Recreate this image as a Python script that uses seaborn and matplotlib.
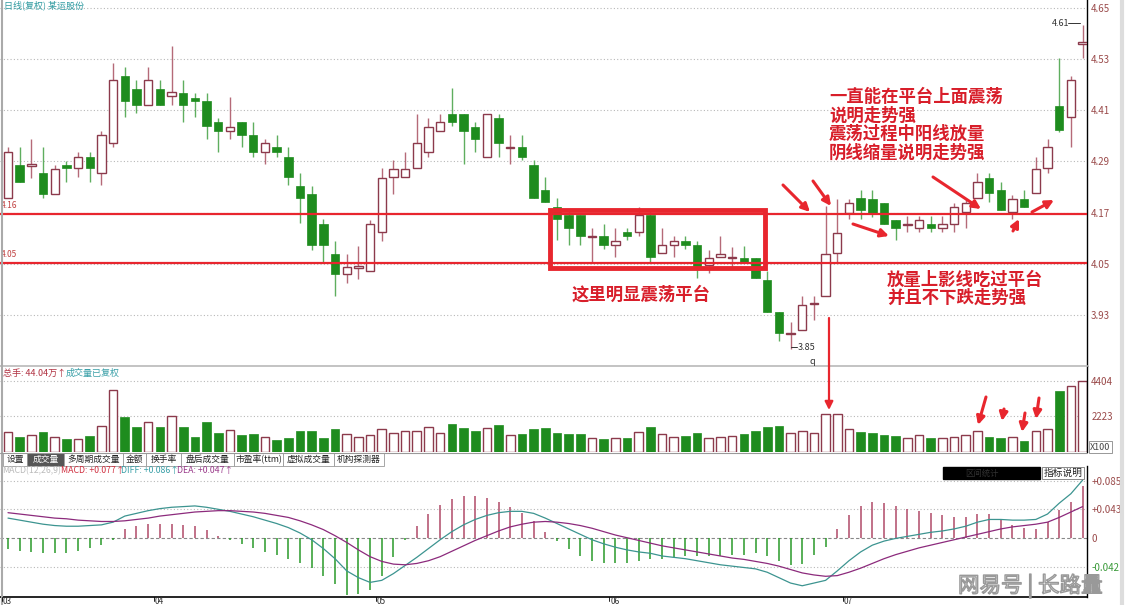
import numpy as np
import matplotlib
matplotlib.use("Agg")
import matplotlib.pyplot as plt
import matplotlib.patheffects as pe
from matplotlib.patches import Rectangle
import seaborn as sns

sns.set_theme(style="white")
plt.rcParams['font.family'] = ['Noto Sans CJK SC', 'DejaVu Sans']
plt.rcParams['axes.unicode_minus'] = False

# daily candles, 93 sessions (Mar - Jul)
opens = [4.204, 4.282, 4.280, 4.262, 4.214, 4.282, 4.274, 4.301, 4.264, 4.333,
         4.491, 4.461, 4.422, 4.461, 4.444, 4.451, 4.440, 4.432, 4.382, 4.362,
         4.382, 4.352, 4.312, 4.323, 4.301, 4.233, 4.213, 4.143, 4.073, 4.025,
         4.040, 4.034, 4.124, 4.253, 4.253, 4.274, 4.313, 4.362, 4.401, 4.401,
         4.372, 4.301, 4.391, 4.322, 4.323, 4.282, 4.223, 4.184, 4.165, 4.165,
         4.113, 4.114, 4.094, 4.124, 4.124, 4.165, 4.075, 4.094, 4.104, 4.094,
         4.046, 4.065, 4.063, 4.064, 4.064, 4.012, 3.936, 3.886, 3.895, 3.955,
         3.975, 4.075, 4.170, 4.204, 4.202, 4.192, 4.153, 4.142, 4.133, 4.143,
         4.133, 4.143, 4.171, 4.204, 4.251, 4.223, 4.172, 4.202, 4.215, 4.274,
         4.420, 4.394, 4.565]
highs = [4.325, 4.323, 4.343, 4.323, 4.282, 4.292, 4.312, 4.312, 4.362, 4.522,
         4.512, 4.481, 4.511, 4.481, 4.561, 4.481, 4.451, 4.451, 4.391, 4.442,
         4.382, 4.382, 4.342, 4.352, 4.323, 4.262, 4.233, 4.154, 4.104, 4.073,
         4.092, 4.153, 4.274, 4.293, 4.312, 4.401, 4.391, 4.401, 4.462, 4.401,
         4.382, 4.401, 4.401, 4.352, 4.352, 4.294, 4.253, 4.204, 4.175, 4.165,
         4.133, 4.143, 4.133, 4.133, 4.184, 4.175, 4.133, 4.114, 4.114, 4.104,
         4.083, 4.114, 4.090, 4.092, 4.064, 4.032, 3.936, 3.914, 3.975, 3.975,
         4.186, 4.201, 4.201, 4.223, 4.223, 4.192, 4.153, 4.162, 4.162, 4.162,
         4.162, 4.192, 4.201, 4.264, 4.264, 4.241, 4.211, 4.223, 4.301, 4.342,
         4.532, 4.491, 4.610]
lows = [4.204, 4.243, 4.252, 4.204, 4.214, 4.243, 4.254, 4.243, 4.235, 4.323,
        4.394, 4.403, 4.422, 4.422, 4.422, 4.383, 4.394, 4.342, 4.313, 4.342,
        4.323, 4.301, 4.283, 4.301, 4.235, 4.145, 4.082, 4.055, 3.975, 4.004,
        4.014, 4.034, 4.104, 4.214, 4.253, 4.274, 4.301, 4.362, 4.374, 4.284,
        4.313, 4.301, 4.301, 4.284, 4.294, 4.204, 4.194, 4.106, 4.094, 4.094,
        4.055, 4.085, 4.065, 4.106, 4.114, 4.055, 4.075, 4.065, 4.085, 4.016,
        4.028, 4.065, 4.043, 4.055, 4.016, 3.936, 3.868, 3.850, 3.895, 3.917,
        3.975, 4.053, 4.154, 4.154, 4.159, 4.143, 4.106, 4.125, 4.125, 4.125,
        4.125, 4.125, 4.133, 4.204, 4.196, 4.175, 4.154, 4.184, 4.215, 4.262,
        4.360, 4.325, 4.532]
closes = [4.312, 4.243, 4.284, 4.214, 4.272, 4.274, 4.301, 4.274, 4.351, 4.481,
          4.433, 4.422, 4.481, 4.422, 4.452, 4.422, 4.433, 4.374, 4.362, 4.372,
          4.352, 4.313, 4.333, 4.313, 4.253, 4.204, 4.094, 4.094, 4.025, 4.043,
          4.045, 4.144, 4.251, 4.273, 4.273, 4.333, 4.372, 4.382, 4.383, 4.362,
          4.343, 4.401, 4.333, 4.323, 4.301, 4.204, 4.194, 4.155, 4.133, 4.114,
          4.114, 4.094, 4.104, 4.114, 4.165, 4.065, 4.094, 4.104, 4.094, 4.043,
          4.063, 4.073, 4.065, 4.055, 4.016, 3.936, 3.887, 3.887, 3.954, 3.957,
          4.072, 4.122, 4.192, 4.175, 4.168, 4.143, 4.133, 4.143, 4.153, 4.133,
          4.143, 4.183, 4.192, 4.241, 4.215, 4.175, 4.201, 4.184, 4.272, 4.323,
          4.364, 4.481, 4.570]
# volume in lots (x100)
volume = [1246, 934, 1059, 1246, 934, 789, 810, 997, 1599, 3863,
          2160, 1558, 1869, 1558, 2243, 1558, 934, 1848, 1184, 1350,
          1059, 1121, 934, 748, 893, 1329, 1329, 893, 1433, 1121,
          934, 1059, 1433, 1204, 1308, 1308, 1558, 1184, 1744, 1495,
          1308, 1495, 1682, 1059, 1121, 1433, 1495, 1184, 1121, 1121,
          872, 810, 872, 872, 1246, 1558, 1121, 934, 997, 1184,
          872, 934, 997, 1121, 1308, 1558, 1620, 1184, 1308, 1184,
          2367, 2367, 1433, 1246, 1184, 1059, 997, 872, 1059, 872,
          872, 934, 1059, 1308, 934, 872, 934, 685, 1308, 1433,
          3800, 4112, 4404]
diff = [0.030, 0.027, 0.024, 0.021, 0.019, 0.018, 0.018, 0.019, 0.020, 0.024,
        0.033, 0.037, 0.041, 0.044, 0.046, 0.047, 0.048, 0.046, 0.043, 0.040,
        0.036, 0.032, 0.027, 0.022, 0.016, 0.008, -0.002, -0.015, -0.030, -0.048,
        -0.058, -0.065, -0.062, -0.052, -0.040, -0.028, -0.015, -0.002, 0.010, 0.020,
        0.028, 0.034, 0.038, 0.040, 0.040, 0.037, 0.030, 0.022, 0.014, 0.006,
        -0.002, -0.008, -0.013, -0.017, -0.020, -0.022, -0.026, -0.028, -0.030, -0.033,
        -0.036, -0.039, -0.041, -0.043, -0.045, -0.050, -0.058, -0.066, -0.070, -0.066,
        -0.062, -0.048, -0.033, -0.020, -0.010, -0.004, 0.000, 0.003, 0.006, 0.009,
        0.011, 0.014, 0.018, 0.024, 0.028, 0.028, 0.027, 0.027, 0.028, 0.036,
        0.052, 0.066, 0.086]
dea = [0.038, 0.036, 0.034, 0.032, 0.030, 0.029, 0.027, 0.026, 0.025, 0.025,
       0.026, 0.028, 0.030, 0.033, 0.035, 0.037, 0.039, 0.040, 0.041, 0.041,
       0.040, 0.039, 0.037, 0.034, 0.031, 0.026, 0.020, 0.013, 0.004, -0.006,
       -0.017, -0.027, -0.034, -0.038, -0.039, -0.037, -0.033, -0.027, -0.019, -0.011,
       -0.003, 0.004, 0.011, 0.017, 0.021, 0.024, 0.025, 0.024, 0.022, 0.019,
       0.015, 0.010, 0.005, 0.001, -0.003, -0.007, -0.011, -0.014, -0.017, -0.020,
       -0.023, -0.026, -0.029, -0.031, -0.034, -0.037, -0.041, -0.046, -0.051, -0.054,
       -0.056, -0.055, -0.050, -0.044, -0.037, -0.030, -0.024, -0.019, -0.014, -0.010,
       -0.006, -0.002, 0.002, 0.006, 0.010, 0.014, 0.017, 0.019, 0.021, 0.024,
       0.031, 0.039, 0.047]
macd_bar = [-0.016, -0.018, -0.020, -0.022, -0.022, -0.022, -0.018, -0.014, -0.010, -0.002,
            0.014, 0.018, 0.022, 0.022, 0.022, 0.020, 0.018, 0.012, 0.004, -0.002,
            -0.008, -0.014, -0.020, -0.024, -0.030, -0.036, -0.044, -0.056, -0.068, -0.084,
            -0.082, -0.076, -0.056, -0.028, -0.002, 0.018, 0.036, 0.050, 0.058, 0.062,
            0.062, 0.060, 0.054, 0.046, 0.038, 0.026, 0.010, -0.004, -0.016, -0.026,
            -0.034, -0.036, -0.036, -0.036, -0.034, -0.030, -0.030, -0.028, -0.026, -0.026,
            -0.026, -0.026, -0.024, -0.024, -0.022, -0.026, -0.034, -0.040, -0.038, -0.024,
            -0.012, 0.014, 0.034, 0.048, 0.054, 0.052, 0.048, 0.044, 0.040, 0.038,
            0.034, 0.032, 0.032, 0.036, 0.036, 0.028, 0.020, 0.016, 0.014, 0.024,
            0.042, 0.054, 0.078]

price_ticks = [4.65, 4.53, 4.41, 4.29, 4.17, 4.05, 3.93]
platform_hi, platform_lo = 4.166, 4.052
month_labels = ["03", "04", "05", "06", "07"]
month_start = [0, 13, 32, 52, 72]
vol_ticks = [4404, 2223]
macd_ticks = [0.085, 0.043, 0, -0.042]

RED = '#e8262e'
TXT_RED = '#d81e2a'
GREEN = '#1e8c1e'
UP_EDGE = '#8c3a4c'
UP_WICK = '#b56a78'
AX_LBL = '#9a4a4a'

o, h, l, c = map(np.array, (opens, highs, lows, closes))
vol = np.array(volume)
n = len(o)
idx = np.arange(n)
up = c >= o

W, H = 1125, 605
fig = plt.figure(figsize=(W / 100, H / 100), dpi=100)
fig.patch.set_facecolor('white')


def box(x0, y0, x1, y1):
    return fig.add_axes([x0 / W, 1 - y1 / H, (x1 - x0) / W, (y1 - y0) / H])


XLIM = (-8 / 11.68, (1087 - 8) / 11.68)
dotted = dict(color='#b8b8b8', lw=0.8, ls=(0, (1, 2)))


def style(ax):
    ax.set_xlim(*XLIM)
    ax.set_xticks([])
    ax.yaxis.tick_right()
    ax.tick_params(axis='y', length=0, pad=3, labelsize=7, labelcolor=AX_LBL)
    for s in ('top', 'left', 'bottom'):
        ax.spines[s].set_visible(False)
    ax.spines['right'].set_color('black')
    ax.spines['right'].set_linewidth(1)
    ax.set_facecolor('white')


# price panel
ax = box(0, 0, 1087, 366)
style(ax)
ax.set_ylim(3.810, 4.669)
for t in price_ticks:
    ax.axhline(t, **dotted, zorder=0)
ax.set_yticks(price_ticks)
ax.set_yticklabels([f"{t:.2f}" for t in price_ticks])
bot = np.minimum(o, c)
bh = np.maximum(np.abs(c - o), 0.0015)
ax.vlines(idx[up], l[up], h[up], color=UP_WICK, lw=1, zorder=2)
ax.vlines(idx[~up], l[~up], h[~up], color='#5fae5f', lw=1, zorder=2)
ax.bar(idx[up], bh[up], bottom=bot[up], width=0.72, facecolor='white',
       edgecolor=UP_EDGE, lw=1, zorder=3)
ax.bar(idx[~up], bh[~up], bottom=bot[~up], width=0.72, color=GREEN,
       edgecolor=GREEN, lw=0.5, zorder=3)
for lvl, lab in ((platform_hi, "4.16"), (platform_lo, "4.05")):
    ax.axhline(lvl, color=RED, lw=1.6, zorder=4)
    ax.text(XLIM[0] + 0.1, lvl + 0.01, lab, fontsize=6, color='#c04040', va='bottom')
ax.add_patch(Rectangle((46.4, 4.040), 18.4, 0.136, fill=False, ec=RED, lw=3.5, zorder=5))

# volume panel
axv = box(0, 366, 1087, 452)
style(axv)
axv.set_ylim(0, 5330)
for t in vol_ticks:
    axv.axhline(t, **dotted, zorder=0)
axv.set_yticks(vol_ticks)
axv.bar(idx[up], vol[up], width=0.74, facecolor='white', edgecolor=UP_EDGE, lw=1)
axv.bar(idx[~up], vol[~up], width=0.74, color=GREEN, edgecolor=GREEN, lw=0.5)
axv.spines['top'].set_visible(True)
axv.spines['top'].set_color('#bbbbbb')

# MACD panel
axm = box(0, 466, 1087, 597)
style(axm)
axm.set_ylim(-0.0866, 0.107)
for t in (0.085, 0.043, -0.042):
    axm.axhline(t, **dotted, zorder=0)
axm.axhline(0, color='#888888', lw=0.8, ls=(0, (3, 2)), zorder=0)
mb = np.array(macd_bar)
axm.vlines(idx[mb >= 0], 0, mb[mb >= 0], color='#b04a68', lw=1.1)
axm.vlines(idx[mb < 0], 0, mb[mb < 0], color='#2a9a2a', lw=1.1)
sns.lineplot(x=idx, y=diff, ax=axm, color='#3c9490', lw=0.9)
sns.lineplot(x=idx, y=dea, ax=axm, color='#8c2a7c', lw=0.9)
axm.set_yticks(macd_ticks)
axm.set_yticklabels(["+0.085", "+0.043", "0", "-0.042"])
axm.get_yticklabels()[-1].set_color('#3a9a3a')
axm.set_xlabel('')
axm.spines['bottom'].set_visible(True)
axm.spines['bottom'].set_color('black')
axm.spines['bottom'].set_linewidth(1.2)
axm.tick_params(axis='x', length=0)

# overlay in pixel coordinates for the annotations
ov = fig.add_axes([0, 0, 1, 1], zorder=10)
ov.set_xlim(0, W)
ov.set_ylim(H, 0)
ov.axis('off')
ov.patch.set_alpha(0)

ov.plot([2, 2], [0, H], color='#aaaaaa', lw=1.5)
ov.plot([1122, 1122], [0, H], color='#dddddd', lw=3)
ov.text(4, 5, "日线(复权) 某运股份", fontsize=6.5, color='#2e9aa0', va='center')

# month axis
for lab, i in zip(month_labels, month_start):
    xp = 8 + i * 11.68 - 6 if i else 2
    ov.plot([xp, xp], [597, 601], color='black', lw=0.6)
    ov.text(xp + 1, 601, lab, fontsize=6, color='#333333', va='center')

# volume header
ov.text(3, 373, "总手: 44.04万↑", fontsize=6.5, color='#b03040', va='center')
ov.text(66, 373, "成交量已复权", fontsize=6.5, color='#3aa0a8', va='center')
ov.text(1090, 447, "X100", fontsize=6.5, color='#444444', va='center',
        bbox=dict(boxstyle='square,pad=0.15', fc='white', ec='#888888', lw=0.6))

# tabs
tabs = ["设置", "成交量", "多周期成交量", "金额", "换手率", "盘后成交量", "市盈率(ttm)", "虚拟成交量", "机构探测器"]
edges = [3, 27, 64, 123, 146, 181, 234, 283, 334, 384]
ov.plot([0, 1087], [453, 453], color='#999999', lw=0.8)
for k, t in enumerate(tabs):
    x0, x1 = edges[k], edges[k + 1]
    sel = (t == "成交量")
    ov.add_patch(Rectangle((x0, 453), x1 - x0, 13, fc='#555555' if sel else 'white',
                           ec='#999999', lw=0.6))
    ov.text((x0 + x1) / 2, 459.5, t, fontsize=6.3, ha='center', va='center',
            color='white' if sel else '#222222')

# MACD header
ov.text(2, 471, "MACD(12,26,9)", fontsize=6.3, color='#bbbbbb', va='center')
ov.text(61, 471, "MACD: +0.077↑", fontsize=6.3, color='#d03040', va='center')
ov.text(121, 471, "DIFF: +0.086↑", fontsize=6.3, color='#3aa0a8', va='center')
ov.text(177, 471, "DEA: +0.047↑", fontsize=6.3, color='#9a3a8a', va='center')
ov.add_patch(Rectangle((943, 467), 97, 12, fc='black', ec='black'))
ov.text(965, 473, "区间统计", fontsize=6, color='#333333', va='center')
ov.add_patch(Rectangle((1042, 467), 42, 12, fc='white', ec='#777777', lw=0.6))
ov.text(1063, 473, "指标说明", fontsize=7, color='#222222', va='center', ha='center')

# price labels on extremes
ov.text(1052, 23, "4.61", fontsize=6.5, color='#333333', va='center')
ov.plot([1068, 1080], [23, 23], color='#333333', lw=0.7)
ov.plot([791, 797], [347, 347], color='#333333', lw=0.7)
ov.text(798, 347, "3.85", fontsize=6.5, color='#333333', va='center')
ov.text(810, 361, "q", fontsize=6.5, color='#333333', va='center')

# annotations
kw = dict(color=TXT_RED, fontsize=12.5, fontweight='bold', va='center')
ov.text(572, 295, "这里明显震荡平台", **kw)
for k, line in enumerate(["一直能在平台上面震荡", "说明走势强", "震荡过程中阳线放量", "阴线缩量说明走势强"]):
    ov.text(829, 97 + k * 18.5, line, **kw)
ov.text(887, 280, "放量上影线吃过平台", **kw)
ov.text(887, 298, "并且不下跌走势强", **kw)

arrows = [((783, 185), (810, 212)), ((813, 181), (831, 206)), ((853, 224), (889, 236)),
          ((933, 177), (981, 209)), ((1013, 231), (1019, 219)), ((1032, 212), (1054, 200)),
          ((986, 397), (978, 425)), ((1004, 409), (1002, 421)), ((1025, 413), (1022, 432)),
          ((1039, 398), (1036, 419))]
for (x0, y0), (x1, y1) in arrows:
    ov.annotate('', xy=(x1, y1), xytext=(x0, y0),
                arrowprops=dict(arrowstyle='-|>', color=RED, lw=2.2, mutation_scale=12,
                                shrinkA=0, shrinkB=0))
ov.annotate('', xy=(829, 410), xytext=(829, 318),
            arrowprops=dict(arrowstyle='-|>', color=RED, lw=1.6, mutation_scale=12,
                            shrinkA=0, shrinkB=0))

# watermark (outline only, kept clear of the axis labels)
ov.text(958, 586, "网易号 | 长路量", fontsize=15.5, color='none', va='center',
        path_effects=[pe.withStroke(linewidth=1.0, foreground='#999999')])

fig.savefig("out.png", dpi=100)
